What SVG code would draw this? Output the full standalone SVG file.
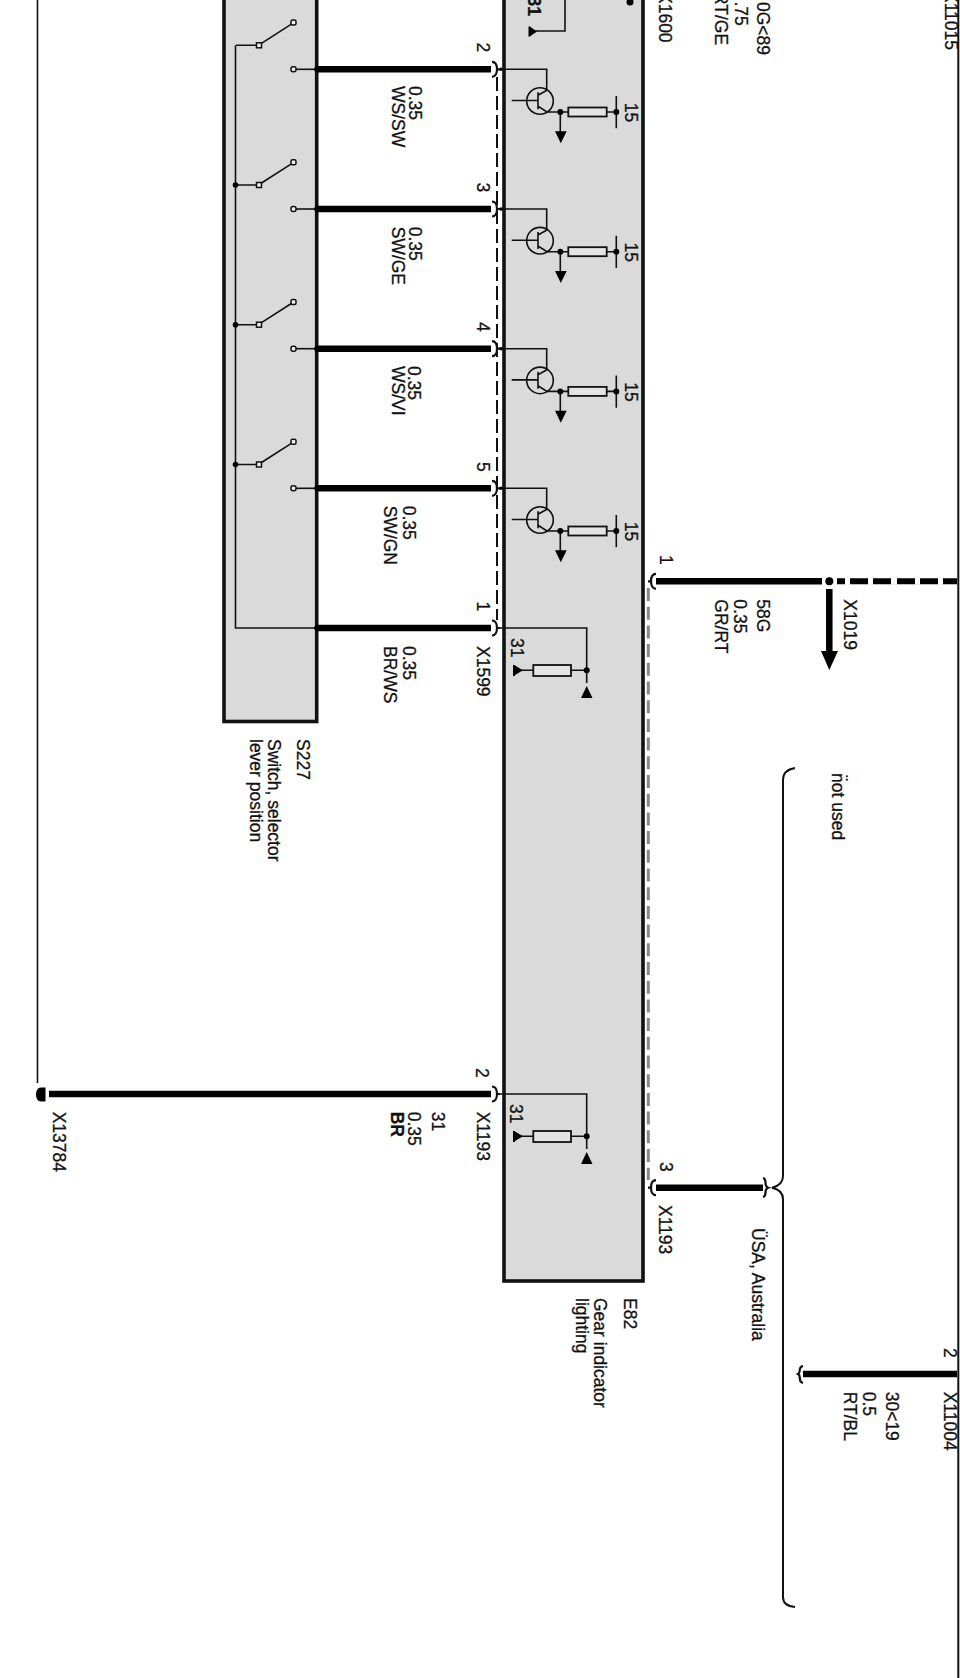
<svg xmlns="http://www.w3.org/2000/svg" xmlns:xlink="http://www.w3.org/1999/xlink" width="960" height="1678" viewBox="0 0 960 1678">
<style>
text{font-family:"Liberation Sans",Arial,sans-serif;font-size:17.5px;fill:#111;stroke:#111;stroke-width:.3}
.b{font-weight:bold}
.box{fill:#dadada;stroke:#111;stroke-width:3.6}
.thin{fill:none;stroke:#111;stroke-width:1.6}
.med{fill:none;stroke:#111;stroke-width:2}
.thick{fill:none;stroke:#000;stroke-width:6.500}
.hook{fill:none;stroke:#111;stroke-width:2.2}
.res{fill:#e4e4e4;stroke:#111;stroke-width:1.8}
.con{fill:#eee;stroke:#111;stroke-width:1.5}
.dot{fill:#000}
</style>
<defs>
<g id="switch">
<path class="thin" d="M236 0H256.500M261.500-2L293.700-22.700"/>
<rect class="con" x="256.500" y="-2.500" width="5" height="5"/>
<rect class="con" x="291" y="-25.300" width="5" height="5" rx="1.500"/>
</g>
<g id="contact">
<path class="thin" d="M296 0H316"/>
<rect class="con" x="291" y="-2.500" width="5" height="5" rx="2"/>
<circle class="dot" cx="317" cy="0" r="2.800"/>
</g>
<g id="driver">
<path class="thin" d="M500 0H546.700V21"/>
<circle class="thin" cx="540" cy="31.700" r="13.300"/>
<path class="thin" d="M511.700 31.200H538M538 23V40M538 26L547 21M538 37L547 42.700H568.300M606.700 42.700H616.300M560.300 42.700V63M616.300 26.700V59"/>
<rect class="res" x="568.300" y="38.200" width="38.400" height="9"/>
<circle class="dot" cx="560.300" cy="42.700" r="3"/>
<circle class="dot" cx="616.300" cy="42.700" r="3"/>
<path class="dot" d="M555 62H566.700L560.800 74Z"/>
<text transform="translate(625 33.500) rotate(90)">15</text>
<circle class="dot" cx="501" cy="0" r="1.800"/>
</g>
<g id="ground">
<path class="thin" d="M500 0H586.700V55M515 42.300H533.300M571 42.300H586.700"/>
<rect class="res" x="533.300" y="37" width="37.700" height="11"/>
<circle class="dot" cx="586.700" cy="42.300" r="3"/>
<path class="dot" d="M586.700 58L592.500 70H581Z"/>
<path class="dot" d="M513 37H515V48H513ZM515 37.500L523 42.300L515 47Z"/>
</g>
<path id="hookL" class="hook" d="M492-7.500C495.500-7.500 497-4 497 0C497 4 495.500 7.500 492 7.500M497 0H500"/>
<path id="hookR" class="hook" d="M656-7.500C652.500-7.500 651-4 651 0C651 4 652.500 7.500 656 7.500M651 0H648"/>
</defs>
<rect width="960" height="1678" fill="#fff"/>
<g id="S227">
<rect class="box" x="224" y="-6" width="92.700" height="727.500"/>
<path class="thin" d="M235.500 45.300V628H316" stroke-width="1.800"/>
<use xlink:href="#switch" href="#switch" y="45.300"/>
<use xlink:href="#switch" href="#switch" y="185"/>
<use xlink:href="#switch" href="#switch" y="324.700"/>
<use xlink:href="#switch" href="#switch" y="464.500"/>
<circle class="dot" cx="235.500" cy="185" r="2.800"/>
<circle class="dot" cx="235.500" cy="324.700" r="2.800"/>
<circle class="dot" cx="235.500" cy="464.500" r="2.800"/>
<use xlink:href="#contact" href="#contact" y="69.300"/>
<use xlink:href="#contact" href="#contact" y="209"/>
<use xlink:href="#contact" href="#contact" y="348.700"/>
<use xlink:href="#contact" href="#contact" y="488.300"/>
<circle class="dot" cx="317" cy="628" r="2.800"/>
<text transform="translate(297 739) rotate(90)">S227</text>
<text transform="translate(268 739) rotate(90)">Switch, selector</text>
<text transform="translate(250 739) rotate(90)">lever position</text>
</g>
<g id="E82">
<rect class="box" x="504" y="-6" width="139" height="1287"/>
<path class="thin" d="M565 0V31H530"/>
<path class="dot" d="M528.500 26.500H530.500V36.500H528.500ZM530.500 27L537 31.500L530.500 36Z"/>
<circle class="dot" cx="630" cy="2" r="3.500"/>
<text class="b" transform="translate(528 -3.500) rotate(90)">31</text>
<use xlink:href="#driver" href="#driver" y="69.300"/>
<use xlink:href="#driver" href="#driver" y="209"/>
<use xlink:href="#driver" href="#driver" y="348.700"/>
<use xlink:href="#driver" href="#driver" y="488.300"/>
<use xlink:href="#ground" href="#ground" y="628"/>
<use xlink:href="#ground" href="#ground" y="1094"/>
<text transform="translate(511 638) rotate(90)">31</text>
<text transform="translate(510 1104) rotate(90)">31</text>
<text transform="translate(624 1298) rotate(90)">E82</text>
<text transform="translate(594 1298) rotate(90)">Gear indicator</text>
<text transform="translate(576 1298) rotate(90)">lighting</text>
</g>
<g id="connectors">
<path class="thin" d="M37.500 0V1083"/>
<path class="med" d="M958.300 0V1678"/>
<path class="dot" d="M41 1087.500H45.500V1101.500H41C37.500 1101.500 36 1098 36 1094.500C36 1091 37.500 1087.500 41 1087.500Z"/>
<path class="thick" d="M316 69.300H491M316 209H491M316 348.700H491M316 488.300H491M316 628H491M49 1094H491"/>
<use xlink:href="#hookL" href="#hookL" y="69.300"/>
<use xlink:href="#hookL" href="#hookL" y="209"/>
<use xlink:href="#hookL" href="#hookL" y="348.700"/>
<use xlink:href="#hookL" href="#hookL" y="488.300"/>
<use xlink:href="#hookL" href="#hookL" y="628"/>
<use xlink:href="#hookL" href="#hookL" y="1094"/>
<path d="M497 77V620" fill="none" stroke="#111" stroke-width="2" stroke-dasharray="14 5"/>
<path d="M648.300 588V1180" fill="none" stroke="#888" stroke-width="3" stroke-dasharray="13 5.700"/>
<use xlink:href="#hookR" href="#hookR" y="581.300"/>
<path class="thick" d="M656 581.300H822"/>
<circle class="dot" cx="829.300" cy="581.300" r="4"/>
<path d="M837 581.300H845M850 581.300H957" fill="none" stroke="#000" stroke-width="6"/>
<path d="M868 581.300H873M891 581.300H897M915 581.300H920M938 581.300H943" fill="none" stroke="#fff" stroke-width="7"/>
<path class="thick" d="M829.300 589V652"/>
<path class="dot" d="M821 651H838L829.300 670Z"/>
<use xlink:href="#hookR" href="#hookR" y="1187.700"/>
<path class="thick" d="M656 1187.700H763"/>
<path class="hook" d="M763 1178C768 1179 763 1186 768 1187.700C763 1189 768 1196 763 1197"/>
<path class="med" d="M795 768Q783 770 783 780V1176Q783 1185 772 1187.700Q783 1190 783 1199V1597Q783 1606 795 1607"/>
<path class="thick" d="M803 1374H957"/>
<path class="hook" d="M803 1366C797 1367 802 1372 798 1374C802 1376 797 1381 803 1383"/>
</g>
<g id="labels">
<text transform="translate(477 42.500) rotate(90)">2</text>
<text transform="translate(477 182.500) rotate(90)">3</text>
<text transform="translate(477 322) rotate(90)">4</text>
<text transform="translate(477 462) rotate(90)">5</text>
<text transform="translate(477 601.500) rotate(90)">1</text>
<text transform="translate(477 646) rotate(90)">X1599</text>
<text transform="translate(409 86) rotate(90)">0.35</text>
<text transform="translate(392 86) rotate(90)">WS/SW</text>
<text transform="translate(409 226.700) rotate(90)">0.35</text>
<text transform="translate(392 226.700) rotate(90)">SW/GE</text>
<text transform="translate(408 366) rotate(90)">0.35</text>
<text transform="translate(391.700 366) rotate(90)">WS/VI</text>
<text transform="translate(403 505.700) rotate(90)">0.35</text>
<text transform="translate(384 505.700) rotate(90)">SW/GN</text>
<text transform="translate(403 646) rotate(90)">0.35</text>
<text transform="translate(384 646) rotate(90)">BR/WS</text>
<text transform="translate(476 1068) rotate(90)">2</text>
<text transform="translate(477 1111.700) rotate(90)">X1193</text>
<text transform="translate(431.600 1111.700) rotate(90)">31</text>
<text transform="translate(408.400 1111.700) rotate(90)">0.35</text>
<text class="b" transform="translate(391 1111.700) rotate(90)">BR</text>
<text transform="translate(52.600 1111.700) rotate(90)">X13784</text>
<text transform="translate(659.300 -8) rotate(90)">X1600</text>
<text transform="translate(715 -8) rotate(90)">RT/GE</text>
<text transform="translate(735 1.500) rotate(90)">.75</text>
<text transform="translate(756.700 2) rotate(90)">0G&lt;89</text>
<text transform="translate(945 -9) rotate(90)">X11015</text>
<text transform="translate(659.500 555) rotate(90)">1</text>
<text transform="translate(756.700 599.300) rotate(90)">58G</text>
<text transform="translate(734 599.300) rotate(90)">0.35</text>
<text transform="translate(715 599.300) rotate(90)">GR/RT</text>
<text transform="translate(844 599.300) rotate(90)">X1019</text>
<text transform="translate(832 773) rotate(90)">n̈ot used</text>
<text transform="translate(660 1162) rotate(90)">3</text>
<text transform="translate(659 1205) rotate(90)">X1193</text>
<text transform="translate(751.700 1228) rotate(90)">ÜSA, Australia</text>
<text transform="translate(944 1348) rotate(90)">2</text>
<text transform="translate(944 1391.700) rotate(90)">X11004</text>
<text transform="translate(886 1391.700) rotate(90)">30&lt;19</text>
<text transform="translate(863 1391.700) rotate(90)">0.5</text>
<text transform="translate(844 1391.700) rotate(90)">RT/BL</text>
</g>
</svg>
